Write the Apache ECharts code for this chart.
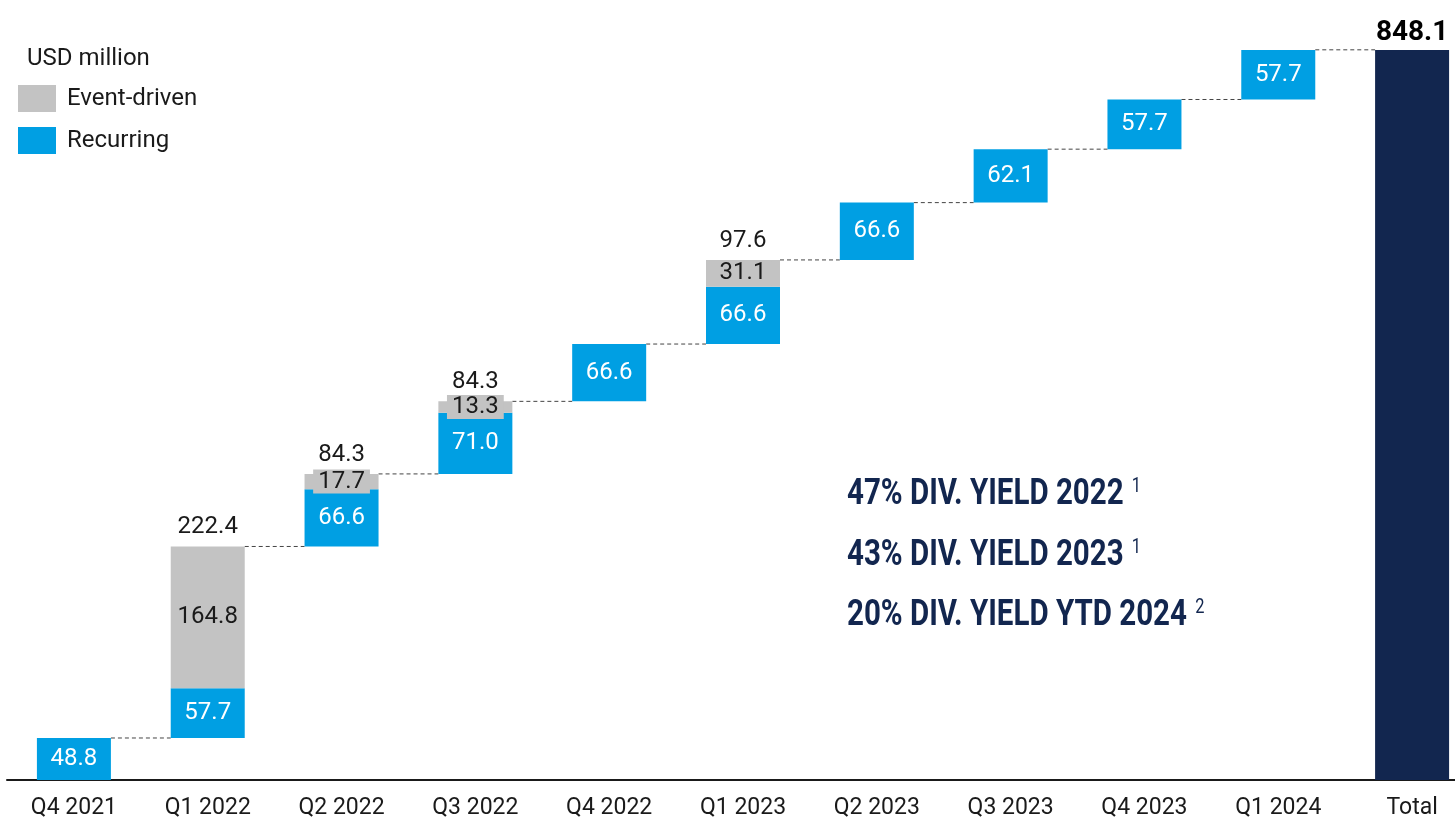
<!DOCTYPE html>
<html>
<head>
<meta charset="utf-8">
<script src="https://cdn.jsdelivr.net/npm/echarts@6/dist/echarts.min.js"></script>
<style>
  html, body { margin: 0; padding: 0; background: #fff; overflow: hidden; }
  #chart { width: 1480px; height: 820px; }
</style>
</head>
<body>
<div id="chart"></div>
<script>
// quarters on the x axis
var categories = ['Q4 2021', 'Q1 2022', 'Q2 2022', 'Q3 2022', 'Q4 2022', 'Q1 2023', 'Q2 2023', 'Q3 2023', 'Q4 2023', 'Q1 2024', 'Total'];
// USD million per quarter
var recurring = [48.8, 57.7, 66.6, 71.0, 66.6, 66.6, 66.6, 62.1, 57.7, 57.7];
var eventDriven = [0, 164.8, 17.7, 13.3, 0, 31.1, 0, 0, 0, 0];
var quarterTotals = [null, 222.4, 84.3, 84.3, null, 97.6, null, null, null, null];
var total = 848.1;
var yieldLines = [
    ['47% DIV. YIELD 2022', '1'],
    ['43% DIV. YIELD 2023', '1'],
    ['20% DIV. YIELD YTD 2024', '2']
];

var BLUE = '#009fe3', GREY = '#c3c3c3', NAVY = '#12264f';
var BAR_W = 74;
var FONT = 'Roboto';

// running base for the waterfall
var base = [], tops = [];
var run = 0;
recurring.forEach(function(v, i) {
    base.push(run);
    run += v + eventDriven[i];
    tops.push(run);
});

var n = categories.length;
function pad(arr) {
    var out = arr.slice();
    while (out.length < n) out.push('-');
    return out;
}

var chart = echarts.init(document.getElementById('chart'));

var option = {
    animation: false,
    backgroundColor: '#fff',
    textStyle: { fontFamily: FONT },
    grid: { left: 7, right: 1, top: 50, bottom: 39 },
    legend: {
        data: ['Event-driven', 'Recurring'],
        orient: 'vertical',
        left: 18,
        top: 85,
        padding: 0,
        itemWidth: 38,
        itemHeight: 27,
        itemGap: 15,
        icon: 'rect',
        textStyle: { fontSize: 24, color: '#1a1a1a', fontFamily: FONT, padding: [3, 0, 0, 6] }
    },
    xAxis: {
        type: 'category',
        data: categories,
        axisLine: { lineStyle: { color: '#1a1a1a', width: 2 } },
        axisTick: { show: false },
        axisLabel: { fontSize: 23, color: '#1a1a1a', margin: 17, fontFamily: FONT }
    },
    yAxis: {
        type: 'value',
        min: 0,
        max: total,
        show: false,
        splitLine: { show: false }
    },
    graphic: [{
        type: 'text',
        left: 27,
        top: 47,
        style: { text: 'USD million', fontSize: 24, fill: '#1a1a1a', fontFamily: FONT }
    }].concat(yieldLines.map(function(l, i) {
        return {
            type: 'text',
            x: 847,
            y: 477 + i * 60.5,
            scaleX: 0.82,
            style: {
                text: '{a|' + l[0] + '}{s|' + l[1] + '}',
                rich: {
                    a: { fontSize: 36, fontWeight: 'bold', fill: NAVY, fontFamily: FONT },
                    s: { fontSize: 20, fill: NAVY, fontFamily: FONT, verticalAlign: 'top', padding: [0, 0, 14, 10] }
                }
            }
        };
    })),
    series: [{
        name: 'base',
        type: 'bar',
        stack: 'wf',
        barWidth: BAR_W,
        silent: true,
        itemStyle: { color: 'transparent' },
        data: pad(base)
    }, {
        name: 'Recurring',
        type: 'bar',
        stack: 'wf',
        barWidth: BAR_W,
        itemStyle: { color: BLUE },
        label: {
            show: true,
            position: 'inside',
            color: '#fff',
            fontSize: 24,
            fontFamily: FONT,
            formatter: function(p) { return p.value.toFixed(1); }
        },
        data: pad(recurring)
    }, {
        name: 'Event-driven',
        type: 'bar',
        stack: 'wf',
        barWidth: BAR_W,
        itemStyle: { color: GREY },
        label: {
            show: true,
            position: 'inside',
            color: '#1a1a1a',
            fontSize: 24,
            fontFamily: FONT,
            backgroundColor: GREY,
            padding: [0, 5, 0, 5],
            formatter: function(p) { return p.value.toFixed(1); }
        },
        data: pad(eventDriven.map(function(v) { return v > 0 ? v : '-'; }))
    }, {
        name: 'Total',
        type: 'bar',
        stack: 'wf',
        barWidth: BAR_W,
        itemStyle: { color: NAVY },
        label: {
            show: true,
            position: 'top',
            distance: 3,
            color: '#000',
            fontSize: 28,
            fontWeight: 'bold',
            fontFamily: FONT,
            formatter: function(p) { return p.value.toFixed(1); }
        },
        data: categories.map(function(c, i) { return i === n - 1 ? total : '-'; })
    }, {
        // dashed connectors between bars
        name: 'connectors',
        type: 'custom',
        silent: true,
        renderItem: function(params, api) {
            var p = api.coord([api.value(0), api.value(1)]);
            var catW = api.size([1, 0])[0];
            return {
                type: 'line',
                shape: { x1: p[0] + BAR_W / 2, y1: p[1], x2: p[0] + catW - BAR_W / 2, y2: p[1] },
                style: { stroke: '#444', lineWidth: 1, lineDash: [4, 3] }
            };
        },
        data: tops.map(function(t, i) { return [i, t]; }),
        z: 1
    }, {
        // totals above the stacked quarters
        name: 'quarterTotals',
        type: 'custom',
        silent: true,
        renderItem: function(params, api) {
            var p = api.coord([api.value(0), api.value(1)]);
            return {
                type: 'text',
                style: {
                    x: p[0], y: p[1] - 7,
                    text: api.value(2).toFixed(1),
                    align: 'center', verticalAlign: 'bottom',
                    fontSize: 24, fill: '#1a1a1a', fontFamily: FONT
                }
            };
        },
        data: quarterTotals.map(function(v, i) { return v == null ? null : [i, tops[i], v]; })
            .filter(function(d) { return d; })
    }]
};

chart.setOption(option);
</script>
</body>
</html>
